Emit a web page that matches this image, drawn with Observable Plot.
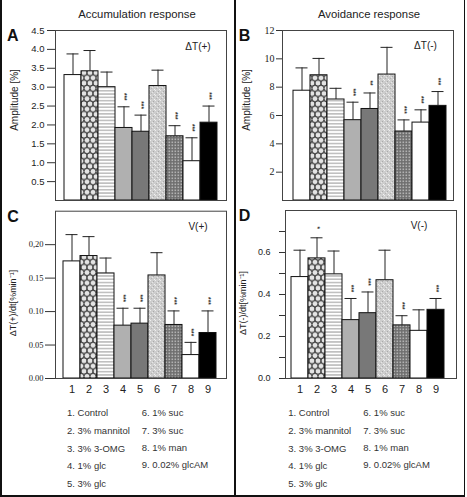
<!DOCTYPE html>
<html><head><meta charset="utf-8">
<script src="https://cdn.jsdelivr.net/npm/d3@7"></script>
<script src="https://cdn.jsdelivr.net/npm/@observablehq/plot@0.6"></script>
<style>
body{margin:0;background:#fff;}
#fig{position:relative;width:467px;height:497px;font-family:"Liberation Sans",Arial,sans-serif;color:#222;overflow:hidden;background:#fff}
.abs{position:absolute;white-space:nowrap;line-height:1}
.c{transform:translate(-50%,-50%)}
.l{transform:translate(0,-50%)}
.rot{transform:translate(-50%,-50%) rotate(-90deg)}
.panel{position:absolute}
.line{position:absolute;background:#111}
</style></head><body>
<svg width="0" height="0" style="position:absolute">
<defs>
  <pattern id="hex" patternUnits="userSpaceOnUse" width="6" height="10.39">
    <rect width="6" height="10.39" fill="#9a9a9a"/>
    <g fill="#e4e4e4" stroke="#1a1a1a" stroke-width="0.7">
      <circle cx="0" cy="0" r="2.9"/><circle cx="6" cy="0" r="2.9"/>
      <circle cx="3" cy="5.2" r="2.9"/>
      <circle cx="0" cy="10.39" r="2.9"/><circle cx="6" cy="10.39" r="2.9"/>
    </g>
  </pattern>
  <pattern id="hstripe" patternUnits="userSpaceOnUse" width="4" height="3.3">
    <rect width="4" height="3.3" fill="#fff"/>
    <rect y="1.2" width="4" height="0.9" fill="#8c8c8c"/>
  </pattern>
  <pattern id="speck" patternUnits="userSpaceOnUse" width="5" height="5">
    <rect width="5" height="5" fill="#cdcdcd"/>
    <rect x="0" y="0" width="1" height="1" fill="#eee"/>
    <rect x="3" y="1" width="1" height="1" fill="#aaa"/>
    <rect x="1" y="3" width="1" height="1" fill="#b4b4b4"/>
    <rect x="4" y="4" width="1" height="1" fill="#f2f2f2"/>
    <rect x="2" y="2" width="1" height="1" fill="#e6e6e6"/>
  </pattern>
  <pattern id="check" patternUnits="userSpaceOnUse" width="3" height="3">
    <rect width="3" height="3" fill="#6e6e6e"/>
    <rect x="0.5" y="0.5" width="1.6" height="1.6" fill="#b2b2b2"/>
  </pattern>
</defs>
</svg>
<div id="fig"></div>
<script>
// ---- data ----
const categories = ["1","2","3","4","5","6","7","8","9"];
const treatments = ["Control","3% mannitol","3% 3-OMG","1% glc","3% glc","1% suc","3% suc","1% man","0.02% glcAM"];

// A: accumulation amplitude ΔT(+)
const ampPlusMean = [3.32, 3.42, 3.00, 1.92, 1.82, 3.03, 1.70, 1.04, 2.06];
const ampPlusSD   = [0.56, 0.55, 0.40, 0.56, 0.44, 0.42, 0.28, 0.62, 0.44];
const ampPlusSig  = ["", "", "", "***", "***", "", "***", "***", "***"];
// B: avoidance amplitude ΔT(-)
const ampMinusMean = [7.75, 8.84, 7.13, 5.67, 6.46, 8.89, 4.87, 5.50, 6.68];
const ampMinusSD   = [1.61, 1.19, 0.79, 1.27, 1.13, 1.92, 0.82, 0.90, 1.01];
const ampMinusSig  = ["", "", "", "***", "**", "", "***", "***", "***"];
// C: accumulation velocity V(+)
const velPlusMean = [0.175, 0.183, 0.157, 0.079, 0.082, 0.154, 0.080, 0.035, 0.068];
const velPlusSD   = [0.040, 0.029, 0.023, 0.026, 0.023, 0.034, 0.021, 0.019, 0.033];
const velPlusSig  = ["", "", "", "***", "***", "", "***", "***", "***"];
// D: avoidance velocity V(-)
const velMinusMean = [0.483, 0.572, 0.496, 0.278, 0.311, 0.468, 0.253, 0.227, 0.327];
const velMinusSD   = [0.128, 0.098, 0.111, 0.103, 0.101, 0.143, 0.046, 0.100, 0.054];
const velMinusSig  = ["", "*", "", "***", "***", "", "***", "", "***"];

// tick values and labels
const aTicks = [0.5, 1.0, 1.5, 2.0, 2.5, 3.0, 3.5, 4.0, 4.5];
const aTickLabels = ["0.5","1.0","1.5","2.0","2.5","3.0","3.5","4.0","4.5"];
const bTicks = [2, 4, 6, 8, 10, 12];
const bTickLabels = ["2","4","6","8","10","12"];
const cTicks = [0, 0.05, 0.10, 0.15, 0.20];
const cTickLabels = ["0.00","0.05","0.10","0.15","0,20"];
const dTicks = [0, 0.1, 0.2, 0.3, 0.4, 0.5, 0.6, 0.7];
const dTickLabels = ["0.0","","0.2","","0.4","","0.6",""];

// ---- styles ----
const barFills = ["#ffffff","url(#hex)","url(#hstripe)","#b0b0b0","#787878","url(#speck)","url(#check)","#ffffff","#000000"];
const fig = document.getElementById("fig");

function panel(o) {
  const data = categories.map((c, i) => ({cat: c, mean: o.mean[i], top: o.mean[i] + o.sd[i], sig: o.sig[i]}));
  const marks = [
    Plot.barY(data, {x: "cat", y: "mean", fill: "cat", stroke: "#111", strokeWidth: 1}),
    Plot.ruleX(data, {x: "cat", y1: "mean", y2: "top", stroke: "#222", strokeWidth: 1}),
    Plot.tickY(data, {x: "cat", y: "top", insetLeft: 2.5, insetRight: 2.5, stroke: "#222", strokeWidth: 1}),
    Plot.text(data, {x: "cat", y: "top", text: "sig", rotate: 90, dy: -10, fontSize: 6.5, fill: "#333", fontWeight: "bold"}),
    Plot.axisY({ticks: o.ticks, tickFormat: d => o.labels[o.ticks.indexOf(d)], tickSize: o.tickSize, tickPadding: o.tickPadding,
      fontFamily: o.tickFont, fontSize: o.tickFontSize, label: null, stroke: "#333", fill: "#222"}),
    Plot.frame({stroke: "#444", strokeWidth: 1})
  ];
  if (o.xLabels) marks.push(Plot.text(categories, {x: d => d, frameAnchor: "bottom", dy: 14, fontSize: 11, fill: "#222"}));
  const p = Plot.plot({
    width: o.width, height: o.height,
    marginLeft: o.ml, marginRight: o.mr, marginTop: o.mt, marginBottom: o.mb,
    x: {domain: categories, padding: 0, insetLeft: o.il, insetRight: o.ir, axis: null},
    y: {domain: o.yDomain, axis: null},
    color: {domain: categories, range: barFills},
    style: {fontFamily: "Liberation Sans, Arial, sans-serif", fontSize: "10px", background: "transparent", color: "#222", overflow: "visible"},
    marks
  });
  p.classList.add("panel");
  p.style.left = o.left + "px";
  p.style.top = o.top + "px";
  fig.appendChild(p);
}

panel({left: 0, top: 0, width: 234, height: 205, ml: 55, mr: 8, mt: 30, mb: 5, il: 6, ir: 6,
  yDomain: [0, 4.5], ticks: aTicks, labels: aTickLabels, tickSize: 8, tickPadding: 3,
  tickFont: "Liberation Sans, Arial, sans-serif", tickFontSize: 9.5,
  mean: ampPlusMean, sd: ampPlusSD, sig: ampPlusSig, xLabels: false});
panel({left: 234, top: 0, width: 232, height: 205, ml: 48, mr: 13, mt: 30, mb: 5, il: 6.7, ir: 2.7,
  yDomain: [0, 12], ticks: bTicks, labels: bTickLabels, tickSize: 6, tickPadding: 2,
  tickFont: "Liberation Serif, Times New Roman, serif", tickFontSize: 10,
  mean: ampMinusMean, sd: ampMinusSD, sig: ampMinusSig, xLabels: false});
panel({left: 0, top: 205, width: 234, height: 200, ml: 55, mr: 8, mt: 5.7, mb: 27, il: 6, ir: 8,
  yDomain: [0, 0.25], ticks: cTicks, labels: cTickLabels, tickSize: 10, tickPadding: 2,
  tickFont: "Liberation Serif, Times New Roman, serif", tickFontSize: 8.5,
  mean: velPlusMean, sd: velPlusSD, sig: velPlusSig, xLabels: true});
panel({left: 234, top: 205, width: 232, height: 200, ml: 51, mr: 10, mt: 5, mb: 27, il: 3, ir: 9,
  yDomain: [0, 0.8], ticks: dTicks, labels: dTickLabels, tickSize: 6, tickPadding: 9,
  tickFont: "Liberation Sans, Arial, sans-serif", tickFontSize: 9,
  mean: velMinusMean, sd: velMinusSD, sig: velMinusSig, xLabels: true});

// ---- texts ----
function txt(s, x, y, cls, css) {
  const d = document.createElement("div");
  d.className = "abs " + cls;
  d.textContent = s;
  d.style.left = x + "px"; d.style.top = y + "px";
  Object.assign(d.style, css || {});
  fig.appendChild(d);
}
const letterCss = {fontFamily: "Liberation Sans Narrow, Arial Narrow, sans-serif", fontWeight: "bold", fontSize: "16px", color: "#111"};
txt("Accumulation response", 137, 15, "c", {fontSize: "11.3px"});
txt("Avoidance response", 369, 15, "c", {fontSize: "11.3px"});
txt("A", 12.8, 36, "c", letterCss);
txt("B", 244.5, 36, "c", letterCss);
txt("C", 13, 217, "c", letterCss);
txt("D", 244.5, 216, "c", letterCss);
txt("Amplitude [%]", 15, 100, "rot", {fontSize: "10px"});
txt("Amplitude [%]", 247, 100, "rot", {fontSize: "10px"});
txt("ΔT(+)/dt[%min⁻¹]", 13, 303, "rot", {fontSize: "9px"});
txt("ΔT(-)/dt[%min⁻¹]", 243, 303, "rot", {fontSize: "9px"});
txt("ΔT(+)", 198, 47, "c", {fontSize: "10px"});
txt("ΔT(-)", 425.5, 46, "c", {fontSize: "10px"});
txt("V(+)", 198, 227, "c", {fontSize: "10px"});
txt("V(-)", 419, 226, "c", {fontSize: "10px"});

// legends
const leftRows = [413, 431, 449, 466, 483.5];
const rightRows = [413, 430.7, 447.5, 465];
[[67, 141.7], [288.3, 363.3]].forEach(([x1, x2]) => {
  treatments.forEach((t, i) => {
    const s = (i + 1) + ". " + t;
    if (i < 5) txt(s, x1, leftRows[i], "l", {fontSize: "9.5px", color: "#333"});
    else txt(s, x2, rightRows[i - 5], "l", {fontSize: "9.5px", color: "#333"});
  });
});

// frame lines
function line(x, y, w, h) {
  const d = document.createElement("div");
  d.className = "line";
  Object.assign(d.style, {left: x + "px", top: y + "px", width: w + "px", height: h + "px"});
  fig.appendChild(d);
}
line(0, 0, 2, 497);
line(234, 0, 1.5, 497);
line(463.5, 0, 1.5, 497);
line(0, 495, 465, 2);
</script>
</body></html>
